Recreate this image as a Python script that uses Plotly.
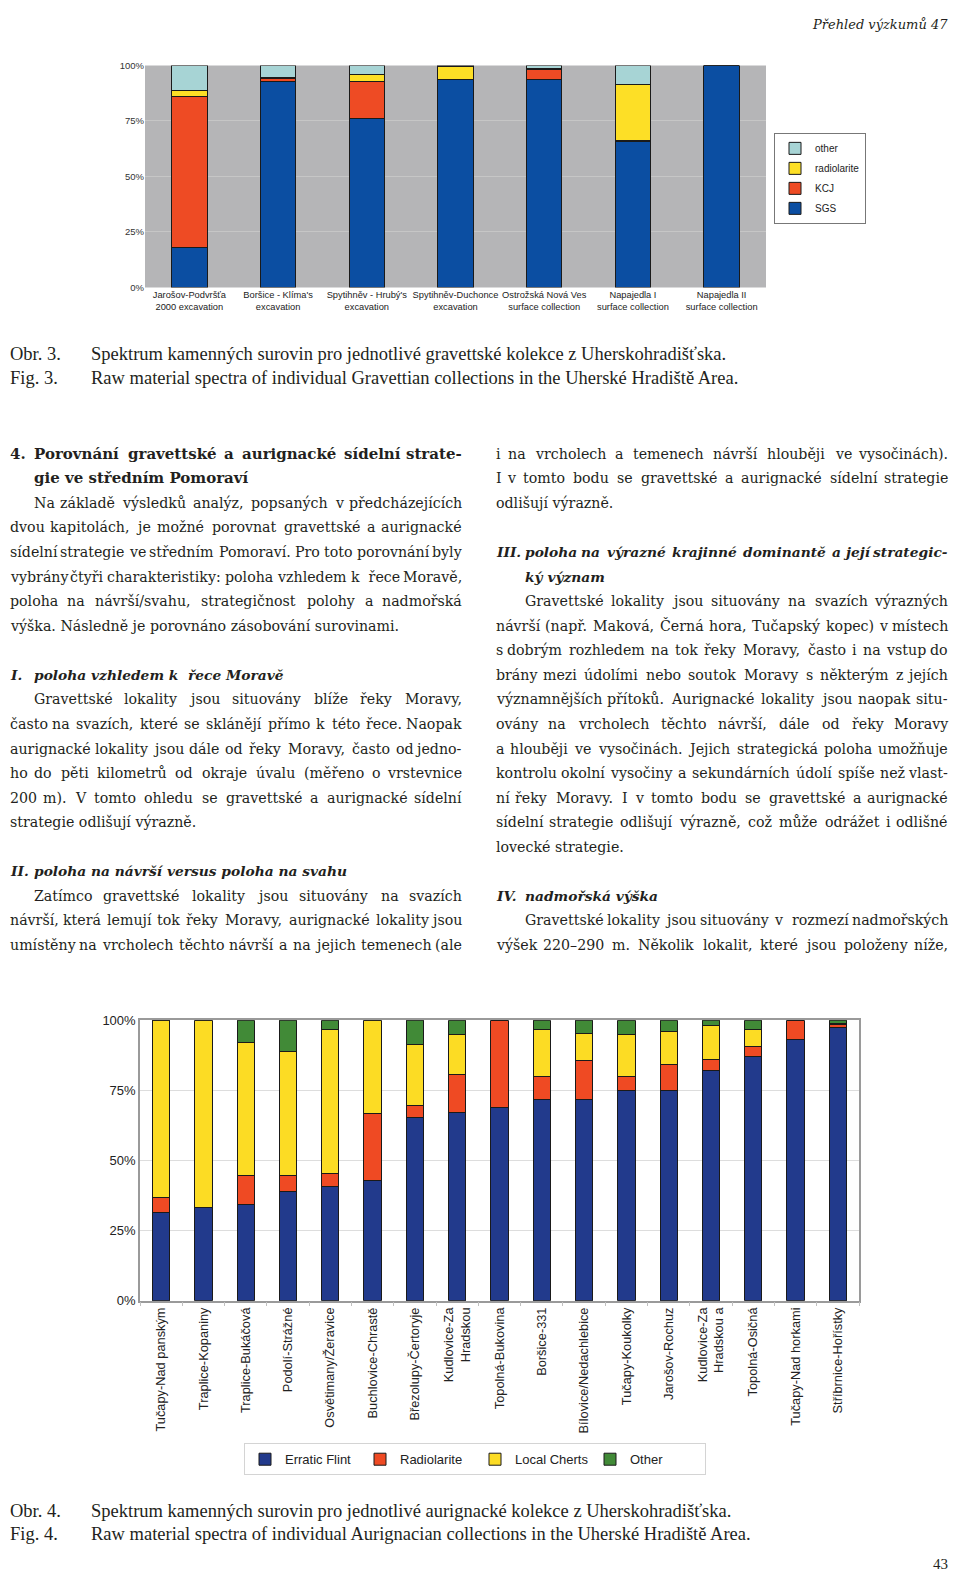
import unicodedata
import plotly.graph_objects as go

# The page is drawn at 960x1590; the browser adds an 8px body margin,
# so the figure itself is 944x1574 and page coordinates are shifted by 8.
PAGE_W, PAGE_H = 960, 1590
OFF = 8
FW, FH = PAGE_W - 2 * OFF, PAGE_H - 2 * OFF


def px(x):
    return (x - OFF) / FW


def py(y):
    return 1 - (y - OFF) / FH


# ---------------- data: Gravettian collections (Fig. 3) ----------------
gr_sites = [
    "Jarošov-Podvršťa<br>2000 excavation",
    "Boršice - Klíma's<br>excavation",
    "Spytihněv - Hrubý's<br>excavation",
    "Spytihněv-Duchonce<br>excavation",
    "Ostrožská Nová Ves<br>surface collection",
    "Napajedla I<br>surface collection",
    "Napajedla II<br>surface collection",
]
gr_sgs = [18.0, 93.0, 76.0, 93.7, 93.7, 65.9, 100.0]
gr_kcj = [68.0, 1.0, 16.7, 0.0, 4.3, 0.3, 0.0]
gr_radiolarite = [2.7, 0.5, 3.3, 6.0, 0.6, 25.4, 0.0]
gr_other = [11.3, 5.5, 4.0, 0.3, 1.4, 8.4, 0.0]
gr_names = ["SGS", "KCJ", "radiolarite", "other"]
gr_colors = ["#0b4ea2", "#ee4b24", "#fddf26", "#a7d4d5"]
gr_ranks = [4, 3, 2, 1]

# ---------------- data: Aurignacian collections (Fig. 4) ----------------
au_sites = [
    "Tučapy-Nad panským", "Traplice-Kopaniny", "Traplice-Bukáčová",
    "Podolí-Strážné", "Osvětimany/Žeravice", "Buchlovice-Chrastě",
    "Březolupy-Čertoryje", "Kudlovice-Za<br>Hradskou", "Topolná-Bukovina",
    "Boršice-331", "Bílovice/Nedachlebice", "Tučapy-Koukolky",
    "Jarošov-Rochuz", "Kudlovice-Za<br>Hradskou a", "Topolná-Osičná",
    "Tučapy-Nad horkami", "Stříbrnice-Hořístky",
]
au_flint = [31.6, 33.4, 34.2, 38.8, 40.8, 42.8, 65.2, 67.2, 68.9, 71.6,
            71.6, 75.1, 75.1, 82.2, 87.2, 93.0, 97.3]
au_radiolarite = [5.2, 0.0, 10.5, 5.7, 4.6, 23.9, 4.3, 13.6, 31.1, 8.4,
                  14.1, 5.0, 9.2, 3.8, 3.3, 7.0, 1.3]
au_local = [63.2, 66.6, 47.4, 44.3, 51.3, 33.3, 21.9, 14.1, 0.0, 16.6,
            9.6, 14.9, 11.8, 12.0, 6.3, 0.0, 0.4]
au_other = [0.0, 0.0, 7.9, 11.2, 3.3, 0.0, 8.6, 5.1, 0.0, 3.4,
            4.7, 5.0, 3.9, 2.0, 3.2, 0.0, 1.0]
au_names = ["Erratic Flint", "Radiolarite", "Local Cherts", "Other"]
au_colors = ["#223a8c", "#ef4a23", "#fcdc24", "#418a37"]
au_ranks = [1, 2, 3, 4]

pct_vals = [0, 25, 50, 75, 100]
pct_text = ["0%", "25%", "50%", "75%", "100%"]

# ---------------- text content ----------------
# (line index, x, text, style, justified)  style: h=bold, s=bold italic, n=normal
left_col = [
    (0, 8, "4.", "h", False), (0, 32, "Porovnání gravettské a aurignacké sídelní strate-", "h", True),
    (1, 32, "gie ve středním Pomoraví", "h", False),
    (2, 32, "Na základě výsledků analýz, popsaných v předcházejících", "n", True),
    (3, 8, "dvou kapitolách, je možné porovnat gravettské a aurignacké", "n", True),
    (4, 8, "sídelní strategie ve středním Pomoraví. Pro toto porovnání byly", "n", True),
    (5, 8, "vybrány čtyři charakteristiky: poloha vzhledem k\u00a0\u00a0řece Moravě,", "n", True),
    (6, 8, "poloha na návrší/svahu, strategičnost polohy a nadmořská", "n", True),
    (7, 8, "výška. Následně je porovnáno zásobování surovinami.", "n", False),
    (9, 8, "I.", "s", False), (9, 32, "poloha vzhledem k\u00a0 řece Moravě", "s", False),
    (10, 32, "Gravettské lokality jsou situovány blíže řeky Moravy,", "n", True),
    (11, 8, "často na svazích, které se sklánějí přímo k této řece. Naopak", "n", True),
    (12, 8, "aurignacké lokality jsou dále od řeky Moravy, často od jedno-", "n", True),
    (13, 8, "ho do pěti kilometrů od okraje úvalu (měřeno o vrstevnice", "n", True),
    (14, 8, "200 m). V tomto ohledu se gravettské a aurignacké sídelní", "n", True),
    (15, 8, "strategie odlišují výrazně.", "n", False),
    (17, 8, "II.", "s", False), (17, 32, "poloha na návrší versus poloha na svahu", "s", False),
    (18, 32, "Zatímco gravettské lokality jsou situovány na svazích", "n", True),
    (19, 8, "návrší, která lemují tok řeky Moravy, aurignacké lokality jsou", "n", True),
    (20, 8, "umístěny na vrcholech těchto návrší a na jejich temenech (ale", "n", True),
]
right_col = [
    (0, 494, "i na vrcholech a temenech návrší hlouběji ve vysočinách).", "n", True),
    (1, 494, "I v tomto bodu se gravettské a aurignacké sídelní strategie", "n", True),
    (2, 494, "odlišují výrazně.", "n", False),
    (4, 494, "III.", "s", False), (4, 523, "poloha na výrazné krajinné dominantě a její strategic-", "s", True),
    (5, 523, "ký význam", "s", False),
    (6, 523, "Gravettské lokality jsou situovány na svazích výrazných", "n", True),
    (7, 494, "návrší (např. Maková, Černá hora, Tučapský kopec) v místech", "n", True),
    (8, 494, "s dobrým rozhledem na tok řeky Moravy, často i na vstup do", "n", True),
    (9, 494, "brány mezi údolími nebo soutok Moravy s některým z jejích", "n", True),
    (10, 494, "významnějších přítoků. Aurignacké lokality jsou naopak situ-", "n", True),
    (11, 494, "ovány na vrcholech těchto návrší, dále od řeky Moravy", "n", True),
    (12, 494, "a hlouběji ve vysočinách. Jejich strategická poloha umožňuje", "n", True),
    (13, 494, "kontrolu okolní vysočiny a sekundárních údolí spíše než vlast-", "n", True),
    (14, 494, "ní řeky Moravy. I v tomto bodu se gravettské a aurignacké", "n", True),
    (15, 494, "sídelní strategie odlišují výrazně, což může odrážet i odlišné", "n", True),
    (16, 494, "lovecké strategie.", "n", False),
    (18, 494, "IV.", "s", False), (18, 523, "nadmořská výška", "s", False),
    (19, 523, "Gravettské lokality jsou situovány v\u00a0\u00a0rozmezí nadmořských", "n", True),
    (20, 494, "výšek 220–290 m. Několik lokalit, které jsou položeny níže,", "n", True),
]
cols = [(left_col, 464), (right_col, 950)]

# approximate advance widths of DejaVu Serif (em)
EM = {
    " ": .318, "a": .596, "b": .640, "c": .560, "d": .640, "e": .592, "f": .370,
    "g": .640, "h": .644, "i": .320, "j": .310, "k": .606, "l": .320, "m": .948,
    "n": .644, "o": .602, "p": .640, "q": .640, "r": .478, "s": .513, "t": .402,
    "u": .644, "v": .565, "w": .856, "x": .564, "y": .565, "z": .527,
    "A": .722, "B": .735, "C": .765, "D": .802, "E": .730, "F": .694, "G": .799,
    "H": .872, "I": .395, "J": .401, "K": .747, "L": .664, "M": 1.024, "N": .875,
    "O": .820, "P": .673, "R": .753, "S": .685, "T": .667, "U": .843, "V": .722,
    "Z": .695, ".": .318, ",": .318, "-": .338, ":": .337, "(": .390, ")": .390,
    "/": .337, "–": .5,
}
for d in "0123456789":
    EM[d] = .636


def text_w(s, size, factor):
    tot = 0.0
    for ch in s:
        if ch == "\u00a0":
            ch = " "
        base = unicodedata.normalize("NFD", ch)[0]
        tot += EM.get(base, 0.6)
    return tot * size * factor


SANS = "Liberation Sans, Arial, sans-serif"
SERIF = "DejaVu Serif, serif"
CAP = "Liberation Serif, Times New Roman, serif"
INK = "#231f20"
# size, width factor relative to regular metrics, markup
STYLES = {"n": (14.2, 1.0, "{}"), "h": (15.0, 1.15, "<b>{}</b>"), "s": (13.8, 1.13, "<b><i>{}</i></b>")}

fig = go.Figure()

for name, vals, col, rk in zip(gr_names, [gr_sgs, gr_kcj, gr_radiolarite, gr_other], gr_colors, gr_ranks):
    fig.add_trace(go.Bar(
        x=gr_sites, y=vals, name=name, width=0.4,
        marker=dict(color=col, line=dict(color="#1a1a1a", width=1)),
        xaxis="x", yaxis="y", legend="legend", legendgroup=name, legendrank=rk,
        hoverinfo="skip",
    ))

for name, vals, col, rk in zip(au_names, [au_flint, au_radiolarite, au_local, au_other], au_colors, au_ranks):
    fig.add_trace(go.Bar(
        x=au_sites, y=vals, name=name, width=0.41,
        marker=dict(color=col, line=dict(color="#1a1a1a", width=1)),
        xaxis="x2", yaxis="y2", legend="legend2", legendrank=rk,
        hoverinfo="skip",
    ))

# grey plot background of the upper chart
fig.add_shape(type="rect", xref="x domain", yref="y domain", x0=0, x1=1, y0=0, y1=1,
              fillcolor="#b5b5b7", line=dict(width=0), layer="below")

fig.update_layout(
    width=FW, height=FH, margin=dict(l=0, r=0, t=0, b=0),
    paper_bgcolor="white", plot_bgcolor="white", barmode="stack",
    font=dict(family=SANS, color="#222"),
    xaxis=dict(domain=[px(145), px(766)], anchor="y", tickangle=0,
               tickfont=dict(size=9.3, color="#222"),
               showgrid=False, ticks="", showline=False, zeroline=False),
    yaxis=dict(domain=[py(283), py(59)], anchor="x", range=[0, 100],
               tickvals=pct_vals, ticktext=pct_text, tickfont=dict(size=9.5, color="#333"),
               gridcolor="#c6c6c6", zeroline=False, showline=False, ticks=""),
    xaxis2=dict(domain=[px(140), px(859)], anchor="y2", tickangle=-90,
                tickfont=dict(size=12.8, color="#222"), showgrid=False,
                showline=True, mirror=True, linecolor="#9a9a9a", linewidth=1.5,
                ticks="outside", tickson="boundaries", ticklen=4, tickcolor="#c0c0c0"),
    yaxis2=dict(domain=[py(1306), py(1023)], anchor="x2", range=[0, 100],
                tickvals=pct_vals, ticktext=pct_text, tickfont=dict(size=13, color="#222"),
                gridcolor="#dddddd", zeroline=False, showline=True, mirror=True,
                linecolor="#9a9a9a", linewidth=1.5, ticks=""),
    legend=dict(x=px(774), y=py(127), xanchor="left", yanchor="top", bgcolor="white",
                bordercolor="#777", borderwidth=1, font=dict(size=10, family=SANS, color="#222"),
                traceorder="grouped", tracegroupgap=1),
    legend2=dict(orientation="h", x=px(244), y=py(1450), xanchor="left", yanchor="top",
                 bgcolor="white", bordercolor="#d4d4d4", borderwidth=1,
                 font=dict(size=13, family=SANS, color="#222"), traceorder="normal",
                 entrywidth=70, entrywidthmode="pixels"),
)

ann = []


def add_text(x, y, text, size=13, family=SERIF, anchor="left", color=INK, yanchor="middle"):
    ann.append(dict(x=px(x), y=py(y), xref="paper", yref="paper", text=text,
                    showarrow=False, xanchor=anchor, yanchor=yanchor,
                    font=dict(family=family, size=size, color=color)))


TOP = 451
STEP = 24.8
for col, right in cols:
    for idx, x, txt, style, just in col:
        y = TOP + STEP * idx
        size, fac, fmt = STYLES[style]
        if not just:
            add_text(x, y, fmt.format(txt), size=size)
            continue
        words = txt.split(" ")
        widths = [text_w(w, size, fac) for w in words]
        n_gaps = max(len(words) - 1, 1)
        gap = (right - x - sum(widths)) / n_gaps
        min_gap = 0.24 * size
        full = gap >= min_gap
        gap = max(gap, min_gap)
        pos = x
        for k, (w, wd) in enumerate(zip(words, widths)):
            shown = fmt.format(w)
            if k == 0:
                add_text(pos, y, shown, size=size, anchor="left")
            elif k == len(words) - 1 and full:
                add_text(right, y, shown, size=size, anchor="right")
            else:
                add_text(pos + wd / 2, y, shown, size=size, anchor="center")
            pos += wd + gap

# header and page number
add_text(950, 8, "<i>Přehled výzkumů 47</i>", size=13, anchor="right", yanchor="top")
add_text(950, 1582, "43", size=15, family=CAP, anchor="right", yanchor="bottom")

# captions
cap3 = ["Spektrum kamenných surovin pro jednotlivé gravettské kolekce z Uherskohradišťska.",
        "Raw material spectra of individual Gravettian collections in the Uherské Hradiště Area."]
cap4 = ["Spektrum kamenných surovin pro jednotlivé aurignacké kolekce z Uherskohradišťska.",
        "Raw material spectra of individual Aurignacian collections in the Uherské Hradiště Area."]
add_text(8, 350, "Obr. 3.", size=18.5, family=CAP)
add_text(89, 350, cap3[0], size=18.5, family=CAP)
add_text(8, 374, "Fig. 3.", size=18.5, family=CAP)
add_text(89, 374, cap3[1], size=18.5, family=CAP)
add_text(8, 1518, "Obr. 4.", size=18.5, family=CAP)
add_text(89, 1518, cap4[0], size=18.5, family=CAP)
add_text(8, 1542, "Fig. 4.", size=18.5, family=CAP)
add_text(89, 1542, cap4[1], size=18.5, family=CAP)

fig.update_layout(annotations=ann)

fig.write_html("out.html")
